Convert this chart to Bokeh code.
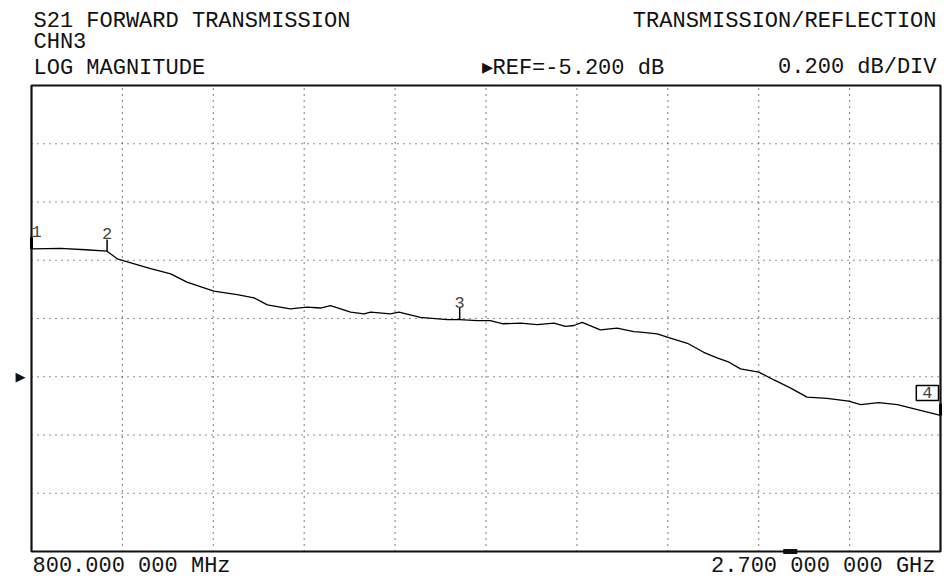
from bokeh.plotting import figure
from bokeh.models import Label, Range1d
from bokeh.embed import file_html
from bokeh.resources import INLINE

# ---- data ----
freq_mhz = [800, 861, 913, 958, 979, 1049, 1091, 1125, 1181, 1230, 1265, 1293, 1341, 1376, 1404,
            1425, 1467, 1495, 1509, 1550, 1568, 1613, 1669, 1695, 1732, 1759, 1784, 1822, 1857, 1892,
            1916, 1934, 1951, 1989, 2024, 2059, 2073, 2108, 2132, 2171, 2205, 2233, 2258, 2282, 2320,
            2352, 2386, 2421, 2463, 2508, 2533, 2571, 2610, 2637, 2700]
s21_db = [-4.761, -4.759, -4.764, -4.769, -4.795, -4.829, -4.847, -4.875, -4.906, -4.918,
          -4.929, -4.953, -4.967, -4.961, -4.964, -4.956, -4.978, -4.984, -4.978, -4.984,
          -4.978, -4.996, -5.004, -5.004, -5.007, -5.007, -5.018, -5.016, -5.021, -5.016,
          -5.027, -5.024, -5.013, -5.039, -5.033, -5.045, -5.047, -5.053, -5.066, -5.085,
          -5.116, -5.135, -5.150, -5.173, -5.184, -5.211, -5.238, -5.270, -5.274, -5.284,
          -5.296, -5.289, -5.296, -5.307, -5.333]
marker_ids = ["1", "2", "3", "4"]
marker_freq = [800, 958, 1695, 2700]
marker_db = [-4.761, -4.769, -5.004, -5.333]
indicator_freq = [2386]

f_start, f_stop = 800, 2700
ref_db = -5.2
scale_db = 0.2
divs_above_ref, divs_below_ref = 5, 3
n_xdiv = 10

y_top = ref_db + divs_above_ref * scale_db
y_bot = ref_db - divs_below_ref * scale_db

# ---- layout (pixels) ----
W, H = 950, 585
BOX_L, BOX_T, BOX_W, BOX_H = 31, 85, 909, 466
px_x = BOX_W / (f_stop - f_start)
px_y = BOX_H / (y_top - y_bot)
x_range = Range1d(f_start - BOX_L / px_x, f_stop + (W - BOX_L - BOX_W) / px_x)
y_range = Range1d(y_bot - (H - BOX_T - BOX_H) / px_y, y_top + BOX_T / px_y)

FONT = "Liberation Mono"
FS = "22px"
INK = "#111111"

p = figure(width=W, height=H, x_range=x_range, y_range=y_range,
           x_axis_location=None, y_axis_location=None, toolbar_location=None,
           output_backend="svg", min_border=0)
p.outline_line_color = None
p.background_fill_color = "white"
p.border_fill_color = "white"
p.grid.visible = False

# dotted graticule
xstep = (f_stop - f_start) / n_xdiv
xt = [f_start + xstep * k for k in range(1, n_xdiv)]
yt = [y_bot + scale_db * k for k in range(1, divs_above_ref + divs_below_ref)]
p.segment(x0=xt, x1=xt, y0=[y_bot] * len(xt), y1=[y_top] * len(xt),
          line_color="#222222", line_dash="1 5", line_width=1.2)
p.segment(x0=[f_start] * len(yt), x1=[f_stop] * len(yt), y0=yt, y1=yt,
          line_color="#222222", line_dash="1 5", line_width=1.2)

# trace
p.line(freq_mhz, s21_db, line_color="black", line_width=1.3)

# frame
p.quad(left=[f_start], right=[f_stop], bottom=[y_bot], top=[y_top],
       fill_color=None, line_color="#111111", line_width=2.2)

# small indicator under the frame
p.rect(x=indicator_freq, y=[y_bot] * len(indicator_freq), width=14, height=5,
       width_units="screen", height_units="screen", fill_color="#111111", line_color=None)

# markers
tick_db = 0.04
p.segment(x0=marker_freq, y0=marker_db, x1=marker_freq, y1=[d + tick_db for d in marker_db],
          line_color="black", line_width=[3, 1.5, 1.5, 3])

for mid, mf, md in zip(marker_ids, marker_freq, marker_db):
    if mid == "4":
        p.add_layout(Label(x=mf, y=md, text=mid, text_font=FONT, text_font_size="17px",
                           text_align="right", text_baseline="bottom", x_offset=-2, y_offset=15,
                           border_line_color="black", border_line_width=1.5,
                           background_fill_color="white", padding=(6, 2)))
    else:
        p.add_layout(Label(x=mf, y=md, text=mid, text_font=FONT, text_font_size="17px",
                           text_align="left" if mf == f_start else "center",
                           text_baseline="bottom", x_offset=0, y_offset=12))


def lab(text, x, y, xo, yo, align="left", size=FS):
    p.add_layout(Label(x=x, y=y, text=text, text_font=FONT, text_font_size=size,
                       text_align=align, text_baseline="alphabetic", x_offset=xo, y_offset=yo,
                       text_color=INK))


lab("S21 FORWARD TRANSMISSION", f_start, y_top, 2, 64)
lab("TRANSMISSION/REFLECTION", f_stop, y_top, -4, 64, "right")
lab("CHN3", f_start, y_top, 2, 43)
lab("LOG MAGNITUDE", f_start, y_top, 2, 17)
lab(f"\u25b8REF={ref_db:.3f} dB", f_start, y_top, 450, 17)
lab(f"{scale_db:.3f} dB/DIV", f_stop, y_top, -4, 18, "right")
lab(f"{f_start:.3f} 000 MHz", f_start, y_bot, 1, -15)
lab(f"{f_stop/1000:.3f} 000 000 GHz", f_stop, y_bot, -5, -15, "right")

# reference-level pointer
p.add_layout(Label(x=f_start, y=ref_db, text="\u25b6", text_font="DejaVu Sans",
                   text_font_size="13px", text_align="right", text_baseline="middle",
                   x_offset=-6, y_offset=0, text_color=INK))

open("out.html", "w").write(file_html(p, INLINE))
